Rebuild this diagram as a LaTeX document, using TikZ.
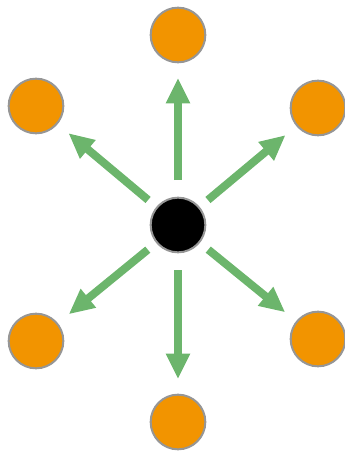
\documentclass[tikz,border=0pt]{standalone}
\usepackage{xcolor}
\usepackage{tikz}
\usetikzlibrary{arrows.meta}
\definecolor{hubblack}{RGB}{0,0,0}
\definecolor{leaforange}{RGB}{242,148,0}
\definecolor{rimgray}{RGB}{150,150,150}
\definecolor{flowgreen}{RGB}{108,181,108}

\begin{document}
\begin{tikzpicture}[
        x=0.75pt, y=-0.75pt,
        hub/.style={circle, draw=rimgray, line width=1.5pt, minimum size=41pt, inner sep=0pt, fill=hubblack},
        leaf/.style={circle, draw=rimgray, line width=1.5pt, minimum size=41pt, inner sep=0pt, fill=leaforange},
        arr/.style={-{Triangle[length=19pt, width=17pt]}, line width=6pt, draw=flowgreen, shorten <=8pt, shorten >=10.5pt},
        straight/.style={shorten <=12.5pt, shorten >=11pt}
    ]
    \useasboundingbox (0,0) rectangle (344,452);

    \node[hub] (hub) at (178,225) {};

    \node[leaf] (top) at (178,35) {};
    \node[leaf] (upleft) at (36,106) {};
    \node[leaf] (upright) at (318,108) {};
    \node[leaf] (lowleft) at (36,341) {};
    \node[leaf] (lowright) at (318,339) {};
    \node[leaf] (bottom) at (178,422) {};

    \draw[arr, straight] (hub) -- (top);
    \draw[arr] (hub) -- (upleft);
    \draw[arr] (hub) -- (upright);
    \draw[arr] (hub) -- (lowleft);
    \draw[arr] (hub) -- (lowright);
    \draw[arr, straight] (hub) -- (bottom);
\end{tikzpicture}
\end{document}
